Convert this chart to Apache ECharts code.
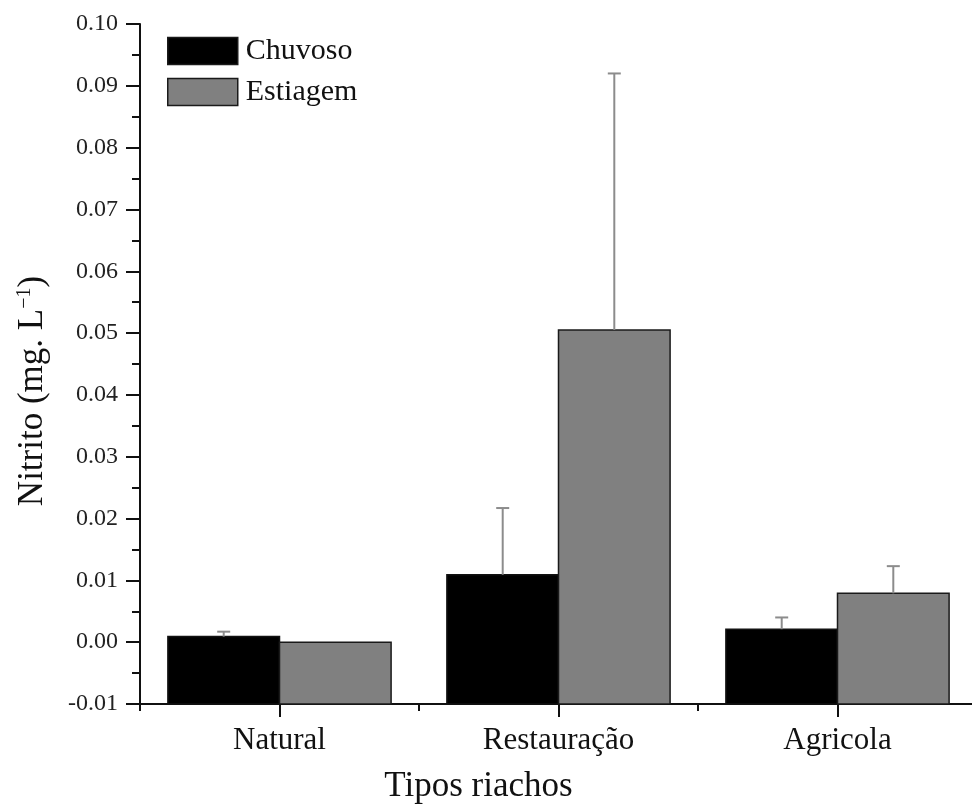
<!DOCTYPE html>
<html>
<head>
<meta charset="utf-8">
<script src="https://cdn.jsdelivr.net/npm/echarts@6/dist/echarts.min.js"></script>
<style>
html,body{margin:0;padding:0;background:#fff;}
#main{width:972px;height:812px;}
</style>
</head>
<body>
<div id="main"></div>
<script>
const categories = ['Natural', 'Restauração', 'Agricola'];
const seriesNames = ['Chuvoso', 'Estiagem'];
const chuvoso = [0.0009, 0.0109, 0.0021];
const chuvosoErr = [0.0008, 0.0108, 0.0019];
const estiagem = [0.0000, 0.0505, 0.0079];
const estiagemErr = [0.0000, 0.0415, 0.0044];
const yMin = -0.01, yMax = 0.10, yInterval = 0.01;

const FONT = '"Liberation Serif", "Times New Roman", serif';
const chart = echarts.init(document.getElementById('main'), null, {renderer: 'canvas'});

const BAR_CAT_GAP = 0.2;

// bars drawn from the axis minimum (as in the original plot)
function barRender(side) {
  return function (params, api) {
    const idx = api.value(0), v = api.value(1);
    const band = api.size([1, 0])[0];
    const barW = band * (1 - BAR_CAT_GAP) / 2;
    const top = api.coord([idx, v]);
    const base = api.coord([idx, yMin]);
    const x0 = side < 0 ? top[0] - barW : top[0];
    return {
      type: 'rect',
      shape: {x: x0, y: top[1], width: barW, height: base[1] - top[1]},
      style: api.style()
    };
  };
}

function errRender(side) {
  return function (params, api) {
    const idx = api.value(0), mean = api.value(1), err = api.value(2);
    if (!(err > 0)) return null;
    const band = api.size([1, 0])[0];
    const barW = band * (1 - BAR_CAT_GAP) / 2;
    const base = api.coord([idx, mean]);
    const top = api.coord([idx, mean + err]);
    const x = base[0] + side * barW / 2;
    const style = {stroke: '#8c8c8c', lineWidth: 2};
    return {
      type: 'group',
      children: [
        {type: 'line', shape: {x1: x, y1: base[1], x2: x, y2: top[1]}, style: style},
        {type: 'line', shape: {x1: x - 6.5, y1: top[1], x2: x + 6.5, y2: top[1]}, style: style}
      ]
    };
  };
}

const option = {
  backgroundColor: '#ffffff',
  animation: false,
  grid: {left: 140, top: 24, bottom: 108, right: -5, containLabel: false, outerBoundsMode: 'none'},
  legend: {
    data: seriesNames,
    orient: 'vertical',
    left: 167, top: 36,
    padding: 0,
    itemWidth: 70, itemHeight: 27, itemGap: 11,
    icon: 'rect',
    itemStyle: {borderColor: '#1a1a1a', borderWidth: 1.5},
    textStyle: {fontFamily: FONT, fontSize: 30, color: '#111', padding: [0, 0, 0, 3]}
  },
  xAxis: [{
    type: 'category',
    data: categories,
    position: 'bottom',
    axisLine: {show: true, onZero: false, lineStyle: {color: '#111', width: 2}},
    axisTick: {show: true, alignWithLabel: false, length: 7, lineStyle: {color: '#111', width: 2}},
    axisLabel: {fontFamily: FONT, fontSize: 31, color: '#111', margin: 21},
    splitLine: {show: false},
    name: 'Tipos riachos',
    nameLocation: 'middle',
    nameGap: 65,
    nameTextStyle: {fontFamily: FONT, fontSize: 35, color: '#111', padding: [0, 160, 0, 0]}
  }, {
    type: 'category',
    data: categories,
    position: 'bottom',
    axisLine: {show: false, onZero: false},
    axisTick: {show: true, alignWithLabel: true, length: 13, lineStyle: {color: '#111', width: 2}},
    axisLabel: {show: false},
    splitLine: {show: false}
  }],
  yAxis: {
    type: 'value',
    min: yMin, max: yMax, interval: yInterval,
    axisLine: {show: true, onZero: false, lineStyle: {color: '#111', width: 2}},
    axisTick: {show: true, inside: false, length: 14, lineStyle: {color: '#111', width: 2}},
    minorTick: {show: true, splitNumber: 2, length: 8, lineStyle: {color: '#111', width: 2}},
    splitLine: {show: false},
    axisLabel: {
      fontFamily: FONT, fontSize: 24, color: '#222', margin: 22,
      formatter: function (v) { return (Math.round(v * 100) / 100).toFixed(2); }
    },
    name: 'Nitrito (mg. L{sup|−1})',
    nameLocation: 'middle',
    nameGap: 90,
    nameTextStyle: {
      fontFamily: FONT, fontSize: 35, color: '#111', padding: [0, 54, 0, 0],
      rich: {sup: {fontFamily: FONT, fontSize: 20, color: '#111', verticalAlign: 'top', padding: [0, 0, 14, 0]}}
    }
  },
  series: [{
    name: 'Chuvoso',
    type: 'custom',
    renderItem: barRender(-1),
    encode: {x: 0, y: 1},
    data: chuvoso.map((v, i) => [i, v]),
    itemStyle: {color: '#000000', borderColor: '#111', borderWidth: 1.5},
    z: 2
  }, {
    name: 'Estiagem',
    type: 'custom',
    renderItem: barRender(1),
    encode: {x: 0, y: 1},
    data: estiagem.map((v, i) => [i, v]),
    itemStyle: {color: '#808080', borderColor: '#1a1a1a', borderWidth: 1.5},
    z: 2
  }, {
    name: 'errC',
    type: 'custom',
    renderItem: errRender(-1),
    encode: {x: 0, y: 1},
    data: chuvoso.map((v, i) => [i, v, chuvosoErr[i]]),
    z: 3,
    silent: true
  }, {
    name: 'errE',
    type: 'custom',
    renderItem: errRender(1),
    encode: {x: 0, y: 1},
    data: estiagem.map((v, i) => [i, v, estiagemErr[i]]),
    z: 3,
    silent: true
  }]
};
chart.setOption(option);
</script>
</body>
</html>
